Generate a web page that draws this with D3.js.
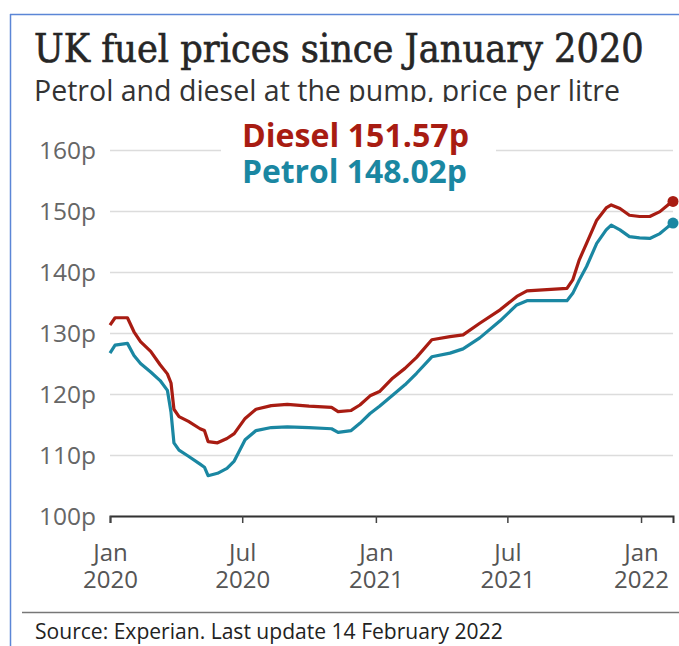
<!DOCTYPE html>
<html>
<head>
<meta charset="utf-8">
<script src="https://cdn.jsdelivr.net/npm/d3@7"></script>
<style>
  html, body { margin: 0; padding: 0; background: #fff; }
  svg { display: block; }
</style>
</head>
<body>
<svg id="chart" width="679" height="646"></svg>
<script>
// ---------------- DATA ----------------
const dates = [
  "2020-01-01","2020-01-08","2020-01-25","2020-02-03","2020-02-12","2020-02-26",
  "2020-03-10","2020-03-20","2020-03-25","2020-03-29","2020-04-05","2020-04-18",
  "2020-05-04","2020-05-10","2020-05-15","2020-05-28","2020-06-10","2020-06-20",
  "2020-07-05","2020-07-20","2020-08-10","2020-09-01","2020-10-01","2020-11-01",
  "2020-11-10","2020-11-28","2020-12-10","2020-12-24","2021-01-06","2021-01-24",
  "2021-02-10","2021-02-26","2021-03-19","2021-04-13","2021-05-01","2021-05-24",
  "2021-06-21","2021-07-14","2021-07-28","2021-09-21","2021-09-29","2021-10-08",
  "2021-10-18","2021-11-01","2021-11-14","2021-11-21","2021-12-03","2021-12-16",
  "2021-12-30","2022-01-13","2022-01-27","2022-02-07","2022-02-14"
];
const diesel = [
  131.3,132.5,132.5,130.2,128.6,127.0,
  124.8,123.3,121.8,117.5,116.3,115.5,
  114.3,114.0,112.2,112.0,112.7,113.5,
  116.0,117.5,118.1,118.3,118.0,117.8,
  117.1,117.3,118.2,119.7,120.4,122.6,
  124.2,126.0,128.9,129.4,129.7,131.6,
  133.8,136.0,136.9,137.3,138.7,142.0,
  144.7,148.5,150.5,151.0,150.4,149.3,
  149.1,149.1,149.9,151.0,151.57
];
const petrol = [
  126.7,128.0,128.3,126.3,125.0,123.6,
  122.2,120.6,117.0,112.0,110.8,109.8,
  108.5,108.0,106.6,107.0,107.8,109.0,
  112.5,114.0,114.5,114.6,114.5,114.3,
  113.7,114.0,115.2,116.8,118.0,119.8,
  121.5,123.4,126.1,126.7,127.4,129.2,
  132.0,134.6,135.3,135.3,136.5,138.7,
  140.9,144.7,146.9,147.7,146.9,145.8,
  145.6,145.5,146.3,147.4,148.02
];
const seriesNames = ["Diesel", "Petrol"];
const latestLabels = ["151.57p", "148.02p"];
const yTicks = [100, 110, 120, 130, 140, 150, 160];
const xTickDates = ["2020-01-01","2020-07-01","2021-01-01","2021-07-01","2022-01-01"];
const xTickLabels = [["Jan","2020"],["Jul","2020"],["Jan","2021"],["Jul","2021"],["Jan","2022"]];
const titleText = "UK fuel prices since January 2020";
const subtitleText = "Petrol and diesel at the pump, price per litre";
const sourceText = "Source: Experian. Last update 14 February 2022";

// ---------------- SETUP ----------------
const parse = d3.timeParse("%Y-%m-%d");
const colors = { Diesel: "#a81c12", Petrol: "#1a87a2" };
const svg = d3.select("#chart");
const W = 679, H = 646;
const sans = "'Open Sans', 'Noto Sans', sans-serif";

function fitWidth(sel, target) {
  const fs = parseFloat(sel.attr("font-size"));
  const w = sel.node().getComputedTextLength();
  sel.attr("font-size", (fs * target / w).toFixed(2));
}

const x = d3.scaleTime()
  .domain([parse("2020-01-01"), parse("2022-02-14")])
  .range([110, 673]);
const y = d3.scaleLinear().domain([100, 160]).range([516, 150]);

// frame (blue border)
svg.append("line").attr("x1", 10).attr("x2", W).attr("y1", 14.5).attr("y2", 14.5)
  .attr("stroke", "#5b86d6").attr("stroke-width", 1.5);
svg.append("line").attr("x1", 10.5).attr("x2", 10.5).attr("y1", 14).attr("y2", H)
  .attr("stroke", "#5b86d6").attr("stroke-width", 1.5);

// title
const t = svg.append("text").attr("x", 34).attr("y", 62)
  .attr("font-family", "'DejaVu Serif Condensed', 'DejaVu Serif', serif")
  .attr("font-stretch", "condensed")
  .attr("font-size", 32)
  .attr("fill", "#262626").attr("stroke", "#262626").attr("stroke-width", 0.6)
  .text(titleText);
fitWidth(t, 610);

const st = svg.append("text").attr("x", 34).attr("y", 101)
  .attr("font-family", sans).attr("font-size", 24)
  .attr("fill", "#333").text(subtitleText);
fitWidth(st, 586);

// y axis with gridlines
const yAxis = svg.append("g").attr("transform", "translate(110,0)")
  .call(d3.axisLeft(y).tickValues(yTicks).tickSize(-563).tickPadding(14)
    .tickFormat(d => d + "p"));
yAxis.select(".domain").remove();
yAxis.selectAll(".tick line").attr("stroke", "#dcdcdc").attr("stroke-width", 1.5);
yAxis.selectAll(".tick text").attr("font-family", sans).attr("font-size", 24.5)
  .attr("fill", "#666").attr("dy", "0.36em");

// legend background box (covers gridlines and the subtitle's descenders)
svg.append("rect").attr("x", 221).attr("y", 102).attr("width", 275).attr("height", 94)
  .attr("fill", "#fff");

// legend text
seriesNames.forEach((name, i) => {
  const lt = svg.append("text").attr("x", 242).attr("y", 147 + i * 35.5)
    .attr("font-family", sans).attr("font-weight", 700).attr("font-size", 27)
    .attr("fill", colors[name]).text(name + " " + latestLabels[i]);
  fitWidth(lt, i === 0 ? 227 : 225);
});

// x axis
const xAxis = svg.append("g").attr("transform", "translate(0,516)")
  .call(d3.axisBottom(x).tickValues(xTickDates.map(parse)).tickSizeOuter(0).tickSize(7)
    .tickFormat(() => ""));
xAxis.select(".domain").attr("stroke", "#333").attr("stroke-width", 2);
xAxis.selectAll(".tick line").attr("stroke", "#444").attr("stroke-width", 1.5);
xAxis.selectAll(".tick").each(function(d, i) {
  const g = d3.select(this).select("text").text(null)
    .attr("font-family", sans).attr("font-size", 24).attr("fill", "#555")
    .attr("y", 0).attr("dy", null);
  g.append("tspan").attr("x", 0).attr("y", 45).text(xTickLabels[i][0]);
  g.append("tspan").attr("x", 0).attr("y", 72).text(xTickLabels[i][1]);
});

// lines
const rows = dates.map((d, i) => ({ date: parse(d), Diesel: diesel[i], Petrol: petrol[i] }));
const plot = svg.append("g");
seriesNames.slice().reverse().forEach(name => {
  const line = d3.line().x(d => x(d.date)).y(d => y(d[name]));
  plot.append("path").datum(rows).attr("d", line)
    .attr("fill", "none").attr("stroke", colors[name]).attr("stroke-width", 3.2)
    .attr("stroke-linejoin", "round");
  const last = rows[rows.length - 1];
  plot.append("circle").attr("cx", x(last.date)).attr("cy", y(last[name]))
    .attr("r", 5.5).attr("fill", colors[name]);
});

// source
svg.append("line").attr("x1", 22).attr("x2", W).attr("y1", 612.5).attr("y2", 612.5)
  .attr("stroke", "#777").attr("stroke-width", 1.5);
const src = svg.append("text").attr("x", 35).attr("y", 639)
  .attr("font-family", sans).attr("font-size", 18).attr("fill", "#222").text(sourceText);
fitWidth(src, 468);
</script>
</body>
</html>
